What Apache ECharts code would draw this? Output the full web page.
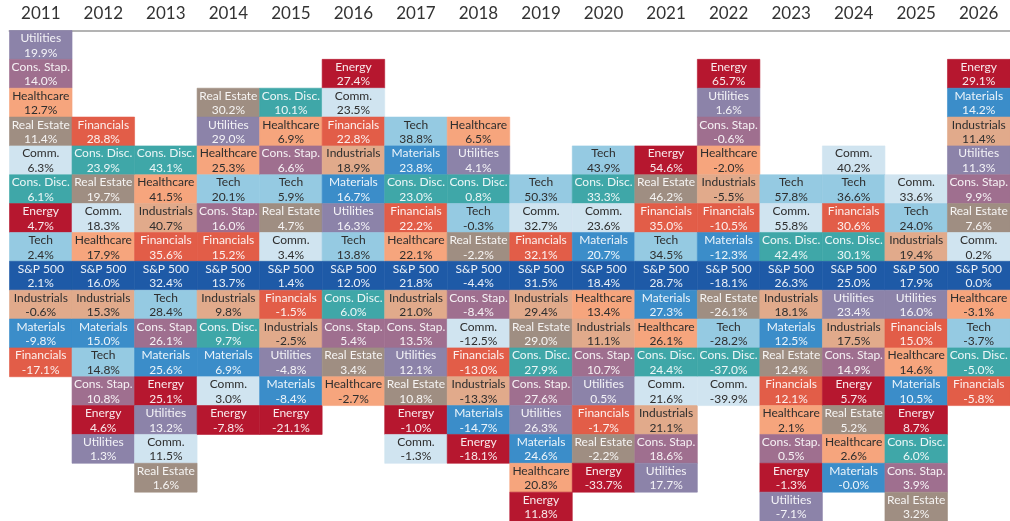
<!DOCTYPE html>
<html>
<head>
<meta charset="utf-8">
<title>Sector returns by year</title>
<script src="https://cdn.jsdelivr.net/npm/echarts@6/dist/echarts.min.js"></script>
<style>
  html, body { margin: 0; padding: 0; background: #fff; }
  #main { width: 1010px; height: 521px; }
</style>
</head>
<body>
<div id="main"></div>
<script>
(function () {
    'use strict';

    // columns are listed from best to worst return, S&P 500 included
    var years = ['2011', '2012', '2013', '2014', '2015', '2016', '2017', '2018',
        '2019', '2020', '2021', '2022', '2023', '2024', '2025', '2026'];

    var y2011 = [['Utilities', 19.9], ['Cons. Stap.', 14.0], ['Healthcare', 12.7], ['Real Estate', 11.4],
        ['Comm.', 6.3], ['Cons. Disc.', 6.1], ['Energy', 4.7], ['Tech', 2.4], ['S&P 500', 2.1],
        ['Industrials', -0.6], ['Materials', -9.8], ['Financials', -17.1]];
    var y2012 = [['Financials', 28.8], ['Cons. Disc.', 23.9], ['Real Estate', 19.7], ['Comm.', 18.3],
        ['Healthcare', 17.9], ['S&P 500', 16.0], ['Industrials', 15.3], ['Materials', 15.0],
        ['Tech', 14.8], ['Cons. Stap.', 10.8], ['Energy', 4.6], ['Utilities', 1.3]];
    var y2013 = [['Cons. Disc.', 43.1], ['Healthcare', 41.5], ['Industrials', 40.7], ['Financials', 35.6],
        ['S&P 500', 32.4], ['Tech', 28.4], ['Cons. Stap.', 26.1], ['Materials', 25.6], ['Energy', 25.1],
        ['Utilities', 13.2], ['Comm.', 11.5], ['Real Estate', 1.6]];
    var y2014 = [['Real Estate', 30.2], ['Utilities', 29.0], ['Healthcare', 25.3], ['Tech', 20.1],
        ['Cons. Stap.', 16.0], ['Financials', 15.2], ['S&P 500', 13.7], ['Industrials', 9.8],
        ['Cons. Disc.', 9.7], ['Materials', 6.9], ['Comm.', 3.0], ['Energy', -7.8]];
    var y2015 = [['Cons. Disc.', 10.1], ['Healthcare', 6.9], ['Cons. Stap.', 6.6], ['Tech', 5.9],
        ['Real Estate', 4.7], ['Comm.', 3.4], ['S&P 500', 1.4], ['Financials', -1.5],
        ['Industrials', -2.5], ['Utilities', -4.8], ['Materials', -8.4], ['Energy', -21.1]];
    var y2016 = [['Energy', 27.4], ['Comm.', 23.5], ['Financials', 22.8], ['Industrials', 18.9],
        ['Materials', 16.7], ['Utilities', 16.3], ['Tech', 13.8], ['S&P 500', 12.0],
        ['Cons. Disc.', 6.0], ['Cons. Stap.', 5.4], ['Real Estate', 3.4], ['Healthcare', -2.7]];
    var y2017 = [['Tech', 38.8], ['Materials', 23.8], ['Cons. Disc.', 23.0], ['Financials', 22.2],
        ['Healthcare', 22.1], ['S&P 500', 21.8], ['Industrials', 21.0], ['Cons. Stap.', 13.5],
        ['Utilities', 12.1], ['Real Estate', 10.8], ['Energy', -1.0], ['Comm.', -1.3]];
    var y2018 = [['Healthcare', 6.5], ['Utilities', 4.1], ['Cons. Disc.', 0.8], ['Tech', -0.3],
        ['Real Estate', -2.2], ['S&P 500', -4.4], ['Cons. Stap.', -8.4], ['Comm.', -12.5],
        ['Financials', -13.0], ['Industrials', -13.3], ['Materials', -14.7], ['Energy', -18.1]];
    var y2019 = [['Tech', 50.3], ['Comm.', 32.7], ['Financials', 32.1], ['S&P 500', 31.5],
        ['Industrials', 29.4], ['Real Estate', 29.0], ['Cons. Disc.', 27.9], ['Cons. Stap.', 27.6],
        ['Utilities', 26.3], ['Materials', 24.6], ['Healthcare', 20.8], ['Energy', 11.8]];
    var y2020 = [['Tech', 43.9], ['Cons. Disc.', 33.3], ['Comm.', 23.6], ['Materials', 20.7],
        ['S&P 500', 18.4], ['Healthcare', 13.4], ['Industrials', 11.1], ['Cons. Stap.', 10.7],
        ['Utilities', 0.5], ['Financials', -1.7], ['Real Estate', -2.2], ['Energy', -33.7]];
    var y2021 = [['Energy', 54.6], ['Real Estate', 46.2], ['Financials', 35.0], ['Tech', 34.5],
        ['S&P 500', 28.7], ['Materials', 27.3], ['Healthcare', 26.1], ['Cons. Disc.', 24.4],
        ['Comm.', 21.6], ['Industrials', 21.1], ['Cons. Stap.', 18.6], ['Utilities', 17.7]];
    var y2022 = [['Energy', 65.7], ['Utilities', 1.6], ['Cons. Stap.', -0.6], ['Healthcare', -2.0],
        ['Industrials', -5.5], ['Financials', -10.5], ['Materials', -12.3], ['S&P 500', -18.1],
        ['Real Estate', -26.1], ['Tech', -28.2], ['Cons. Disc.', -37.0], ['Comm.', -39.9]];
    var y2023 = [['Tech', 57.8], ['Comm.', 55.8], ['Cons. Disc.', 42.4], ['S&P 500', 26.3],
        ['Industrials', 18.1], ['Materials', 12.5], ['Real Estate', 12.4], ['Financials', 12.1],
        ['Healthcare', 2.1], ['Cons. Stap.', 0.5], ['Energy', -1.3], ['Utilities', -7.1]];
    var y2024 = [['Comm.', 40.2], ['Tech', 36.6], ['Financials', 30.6], ['Cons. Disc.', 30.1],
        ['S&P 500', 25.0], ['Utilities', 23.4], ['Industrials', 17.5], ['Cons. Stap.', 14.9],
        ['Energy', 5.7], ['Real Estate', 5.2], ['Healthcare', 2.6], ['Materials', -0.04]];
    var y2025 = [['Comm.', 33.6], ['Tech', 24.0], ['Industrials', 19.4], ['S&P 500', 17.9],
        ['Utilities', 16.0], ['Financials', 15.0], ['Healthcare', 14.6], ['Materials', 10.5],
        ['Energy', 8.7], ['Cons. Disc.', 6.0], ['Cons. Stap.', 3.9], ['Real Estate', 3.2]];
    var y2026 = [['Energy', 29.1], ['Materials', 14.2], ['Industrials', 11.4], ['Utilities', 11.3],
        ['Cons. Stap.', 9.9], ['Real Estate', 7.6], ['Comm.', 0.2], ['S&P 500', 0.0],
        ['Healthcare', -3.1], ['Tech', -3.7], ['Cons. Disc.', -5.0], ['Financials', -5.8]];

    var columns = [y2011, y2012, y2013, y2014, y2015, y2016, y2017, y2018,
        y2019, y2020, y2021, y2022, y2023, y2024, y2025, y2026];

    var colors = {
        'Utilities': '#8c83a9',
        'Cons. Stap.': '#9f6f8f',
        'Healthcare': '#f6a57d',
        'Real Estate': '#9f8e82',
        'Comm.': '#d0e4f0',
        'Cons. Disc.': '#3fa7a8',
        'Energy': '#b6172f',
        'Tech': '#95cae2',
        'S&P 500': '#1e5aa7',
        'Industrials': '#e1aa8b',
        'Materials': '#3b8dc9',
        'Financials': '#e25d48'
    };
    var darkText = ['Healthcare', 'Comm.', 'Tech', 'Industrials'];

    // S&P 500 always sits on row 8, the rest stack around it
    var SP_ROW = 8;
    var cells = [];
    columns.forEach(function (list, col) {
        var spIndex = list.findIndex(function (d) { return d[0] === 'S&P 500'; });
        list.forEach(function (d, i) {
            cells.push([col, SP_ROW - spIndex + i, d[1], d[0]]);
        });
    });

    var chart = echarts.init(document.getElementById('main'));

    var option = {
        animation: false,
        grid: {
            left: 9.5,
            top: 30.5,
            width: 16 * 63.1,
            height: 17 * 28.9
        },
        xAxis: {
            type: 'category',
            position: 'top',
            data: years,
            offset: 2,
            axisLine: { lineStyle: { color: '#b3b3b3', width: 2 } },
            axisTick: { show: false },
            axisLabel: {
                margin: 6,
                fontSize: 17,
                fontFamily: 'Lato',
                color: '#333'
            },
            splitLine: { show: false }
        },
        yAxis: {
            type: 'value',
            min: 0,
            max: 17,
            inverse: true,
            show: false
        },
        series: [{
            type: 'custom',
            data: cells,
            clip: false,
            renderItem: function (params, api) {
                var col = api.value(0),
                    row = api.value(1),
                    val = api.value(2);
                var name = cells[params.dataIndex][3];
                var pt = api.coord([col, row]);
                var size = api.size([1, 1]);
                var w = size[0], h = size[1];
                var x = pt[0] - w / 2, y = pt[1];
                var fill = colors[name];
                var txtColor = darkText.indexOf(name) >= 0 ? '#2e2e2e' : 'rgba(255,255,255,0.9)';
                return {
                    type: 'group',
                    children: [{
                        type: 'rect',
                        shape: { x: x, y: y, width: w, height: h },
                        style: { fill: fill, stroke: fill, lineWidth: 0.6 }
                    }, {
                        type: 'text',
                        style: {
                            x: x + w / 2,
                            y: y + h / 2 + 0.5,
                            text: name + '\n' + val.toFixed(1) + '%',
                            align: 'center',
                            verticalAlign: 'middle',
                            fontSize: 12,
                            fontFamily: 'Lato',
                            lineHeight: 14.5,
                            fill: txtColor
                        }
                    }]
                };
            }
        }]
    };

    chart.setOption(option);
})();
</script>
</body>
</html>
